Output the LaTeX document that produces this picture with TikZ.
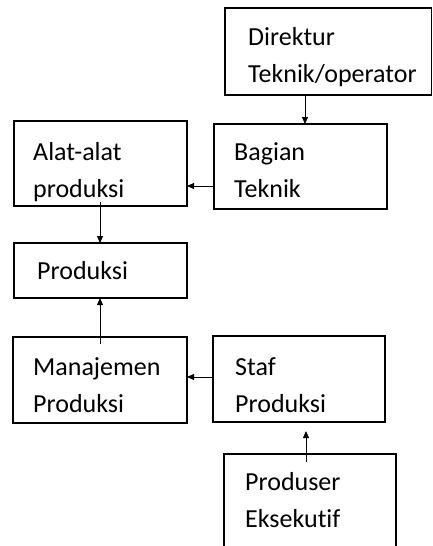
\documentclass[tikz,border=0pt]{standalone}
\usepackage{fontspec}
\setmainfont{Carlito}[Ligatures={NoCommon}]
\usetikzlibrary{arrows.meta}
\tikzset{
  box/.style={draw=black, line width=1.2pt, rectangle, inner sep=0pt},
  txt/.style={inner sep=0pt, align=left, anchor=base west, font=\fontsize{26}{37}\selectfont},
  arr/.style={draw=black, line width=0.8pt, -{Triangle[length=7pt,width=6pt]}}
}
\begin{document}
\begin{tikzpicture}[x=1pt,y=-1pt]
\useasboundingbox (0,0) rectangle (432,546);
% boxes
\node[box, minimum width=206.5pt, minimum height=87pt] (dir) at (328.25,51.5) {};
\node[box, minimum width=173pt, minimum height=85pt] (bag) at (300.5,166.5) {};
\node[box, minimum width=173pt, minimum height=85pt] (alat) at (100.5,163.5) {};
\node[box, minimum width=173pt, minimum height=55pt] (prod) at (100.5,270.5) {};
\node[box, minimum width=174pt, minimum height=86pt] (man) at (100,380) {};
\node[box, minimum width=172pt, minimum height=86pt] (staf) at (299,379) {};
\node[box, minimum width=172pt, minimum height=106pt] (pe) at (310,507) {};
% texts (anchor = baseline of last line)
\node[txt] (tdir) at (248,82) {Direktur\\Teknik/operator};
\node[txt] (tbag) at (234,197) {Bagian\\Teknik};
\node[txt] (talat) at (33,197) {Alat-alat\\produksi};
\node[txt] (tprod) at (37,279) {Produksi};
\node[txt] (tman) at (33,412) {Manajemen\\Produksi};
\node[txt] (tstaf) at (235,412) {Staf\\Produksi};
\node[txt] (tpe) at (245,527) {Produser\\Eksekutif};
% connector end points
\coordinate (c1s) at (305,95);
\coordinate (c1e) at (305,124);
\coordinate (c2s) at (214,186);
\coordinate (c2e) at (187,186);
\coordinate (c3s) at (100,202);
\coordinate (c3e) at (100,243);
\coordinate (c4s) at (100,344);
\coordinate (c4e) at (100,298);
\coordinate (c5s) at (213,377);
\coordinate (c5e) at (187,377);
\coordinate (c6s) at (306,462);
\coordinate (c6e) at (306,431);
% connectors
\draw[arr] (c1s) -- (c1e);
\draw[arr] (c2s) -- (c2e);
\draw[arr] (c3s) -- (c3e);
\draw[arr] (c4s) -- (c4e);
\draw[arr] (c5s) -- (c5e);
\draw[arr] (c6s) -- (c6e);
\end{tikzpicture}
\end{document}
